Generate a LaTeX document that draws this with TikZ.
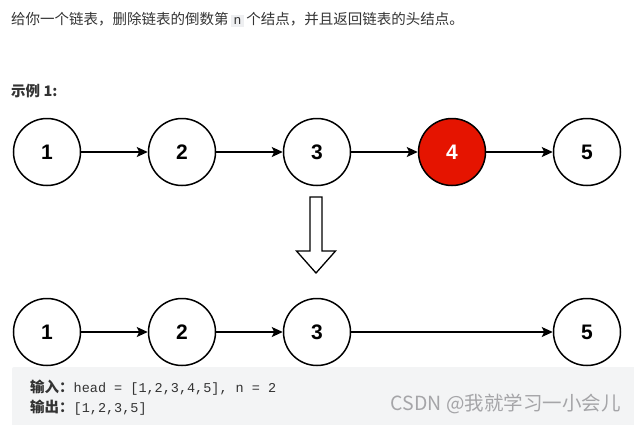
\documentclass[tikz,border=0pt]{standalone}
\usepackage{fontspec}
\setmainfont{Liberation Sans}
\setmonofont{Liberation Mono}
\newfontfamily\cjk{Noto Sans CJK SC}
\usetikzlibrary{arrows.meta,positioning}
\definecolor{textgray}  {RGB}{ 51,  51,  51}
\definecolor{codegray}  {RGB}{238, 239, 241}
\definecolor{boxgray}   {RGB}{243, 244, 245}
\definecolor{nodered}   {RGB}{229,  20,   0}
\definecolor{markgray}  {RGB}{165, 165, 168}

\begin{document}
\begin{tikzpicture}[
  x=1pt,y=-1pt,
  lnode/.style={draw=black,line width=1.5pt,circle,fill=white,minimum size=67pt,
                inner sep=0pt,font=\fontsize{21}{21}\selectfont\bfseries},
  delnode/.style={lnode,fill=nodered,text=white},
  link/.style={-{Stealth[length=11pt,width=10pt,inset=2.5pt]},line width=1.5pt},
  txt/.style={anchor=west,inner sep=0pt,text=textgray,font=\fontsize{14.5}{18}\selectfont\cjk},
]
\useasboundingbox (0,0) rectangle (634,424);

%% problem text
\node[txt] (task) at (11,20)
  {给你一个链表，删除链表的倒数第\,{\setlength\fboxsep{2.5pt}\colorbox{codegray}{\fontsize{13}{13}\selectfont\ttfamily n}}\,个结点，并且返回链表的头结点。};
\node[txt,font=\fontsize{14.5}{18}\selectfont\cjk\bfseries] (ex) at (11,91) {示例 1:};

%% list before removal
\node[lnode] (a1) at (47,152) {1};
\node[lnode,right=66.5pt of a1] (a2) {2};
\node[lnode,right=66.5pt of a2] (a3) {3};
\node[delnode,right=66.5pt of a3] (a4) {4};
\node[lnode,right=66.5pt of a4] (a5) {5};

\foreach \i/\j in {a1/a2,a2/a3,a3/a4,a4/a5}
  \draw[link] (\i) -- (\j);

%% hollow arrow
\coordinate (drop) at (316,197);
\draw[line width=1.3pt,fill=white] (drop) ++(-6,0) -- ++(12,0) -- ++(0,54) -- ++(13.5,0)
  -- (316,273) -- (296.5,251) -- ++(13.5,0) -- cycle;

%% list after removal
\node[lnode] (b1) at (47,332) {1};
\node[lnode,right=66.5pt of b1] (b2) {2};
\node[lnode,right=66.5pt of b2] (b3) {3};
\node[lnode,right=201.5pt of b3] (b5) {5};

\foreach \i/\j in {b1/b2,b2/b3,b3/b5}
  \draw[link] (\i) -- (\j);

%% example io box
\fill[boxgray,rounded corners=2pt] (12,367) rectangle (640,430);
\node[txt,anchor=west] (inp) at (30,388)
  {{\bfseries 输入：}{\fontsize{13.5}{13.5}\selectfont\ttfamily head = [1,2,3,4,5], n = 2}};
\node[txt,anchor=west] (outp) at (30,408)
  {{\bfseries 输出：}{\fontsize{13.5}{13.5}\selectfont\ttfamily [1,2,3,5]}};
\node[anchor=east,inner sep=0pt,text=markgray,font=\fontsize{19.5}{19.5}\selectfont\cjk] (mark) at (621,404)
  {CSDN @我就学习一小会儿};

\end{tikzpicture}
\end{document}
